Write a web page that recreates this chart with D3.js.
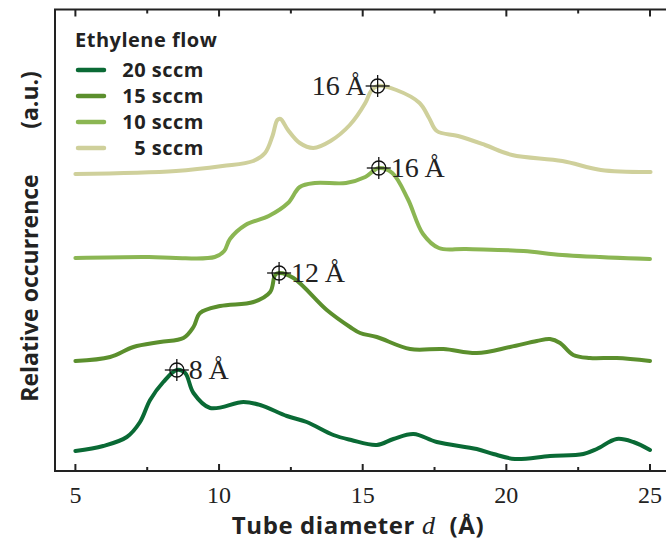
<!DOCTYPE html>
<html>
<head>
<meta charset="utf-8">
<script src="https://cdn.jsdelivr.net/npm/d3@7"></script>
<style>
  html, body { margin: 0; padding: 0; background: #fff; }
  svg { display: block; }
</style>
</head>
<body>
<svg id="chart" width="666" height="550"></svg>
<script>
// Diameter distributions for each ethylene flow, stacked with vertical offsets
const seriesNames = ["20 sccm", "15 sccm", "10 sccm", "5 sccm"];
const legendLabels = ["20 sccm", "15 sccm", "10 sccm", "\u2007\u20095 sccm"];
const seriesColors = ["#0a6a35", "#5b8f2d", "#8bb653", "#cfd09b"];
const seriesOffsets = [0.1, 1.0, 2.0, 2.9];

const d20 = [[5.0,0.10],[5.97,0.15],[6.79,0.24],[7.25,0.39],[7.6,0.61],[8.06,0.79],[8.53,0.91],[8.82,0.88],[9.11,0.68],[9.69,0.53],[10.85,0.59],[11.43,0.56],[12.36,0.45],[13.05,0.39],[13.98,0.26],[14.6,0.21],[15.49,0.16],[16.07,0.22],[16.77,0.27],[17.58,0.19],[18.97,0.12],[19.55,0.07],[20.3,0.02],[21.52,0.05],[22.68,0.07],[23.15,0.12],[23.84,0.22],[24.42,0.19],[25.0,0.11]];
const d15 = [[5.0,0.10],[6.21,0.14],[7.02,0.24],[7.95,0.29],[8.76,0.33],[9.11,0.44],[9.34,0.58],[10.04,0.65],[11.2,0.69],[11.78,0.79],[11.95,0.96],[12.09,0.98],[12.59,0.93],[13.75,0.61],[14.56,0.44],[14.91,0.38],[15.49,0.34],[16.65,0.22],[17.81,0.22],[18.97,0.18],[20.13,0.24],[21.06,0.30],[21.52,0.32],[21.87,0.28],[22.33,0.16],[22.91,0.13],[23.84,0.13],[25.0,0.10]];
const d10 = [[5.0,0.13],[7.56,0.14],[8.5,0.13],[9.85,0.14],[10.18,0.20],[10.38,0.32],[10.92,0.46],[11.73,0.55],[12.4,0.68],[12.81,0.84],[13.34,0.88],[14.42,0.88],[15.09,0.94],[15.56,1.03],[16.03,0.98],[16.57,0.72],[17.1,0.37],[17.65,0.23],[18.59,0.22],[20.6,0.20],[21.95,0.16],[25.0,0.12]];
const d5 = [[5.0,0.07],[8.5,0.10],[10.12,0.15],[11.19,0.20],[11.6,0.28],[11.86,0.45],[12.03,0.61],[12.14,0.62],[12.4,0.51],[12.81,0.38],[13.28,0.33],[13.88,0.40],[14.55,0.56],[15.09,0.78],[15.29,0.90],[15.52,0.95],[16.17,0.91],[16.98,0.78],[17.31,0.63],[17.58,0.50],[18.32,0.45],[19.26,0.36],[20.2,0.26],[21.95,0.20],[23.29,0.11],[25.02,0.09]];
const seriesData = [d20, d15, d10, d5];

// Most frequent diameter per series
const peakX = [8.53, 12.09, 15.56, 15.52];
const peakY = [0.91, 0.98, 1.03, 0.95];
const peakLabels = ["8\u2009Å", "12\u2009Å", "16\u2009Å", "16\u2009Å"];
const peakLabelSide = ["right", "right", "right", "left"];

const xTicksMajor = [5, 10, 15, 20, 25];
const xTicksMinor = [7.5, 12.5, 17.5, 22.5];

const svg = d3.select("#chart");
const plotLeft = 55, plotTop = 9.5, plotBottom = 471;

const x = d3.scaleLinear().domain([4.29, 25.6]).range([plotLeft, plotLeft + 21.31 * 28.73]);
const y = d3.scaleLinear().domain([0, 4.615]).range([plotBottom, plotTop]);

const axisColor = "#222";
const serif = "'Liberation Serif', 'DejaVu Serif', serif";
const sans = "'Open Sans', 'Noto Sans', sans-serif";

// Curves
const line = d3.line().curve(d3.curveCatmullRom.alpha(0.5));
seriesData.forEach((data, i) => {
  svg.append("path")
    .attr("d", line(data.map(d => [x(d[0]), y(d[1] + seriesOffsets[i])])))
    .attr("fill", "none")
    .attr("stroke", seriesColors[i])
    .attr("stroke-width", 4)
    .attr("stroke-linecap", "round")
    .attr("stroke-linejoin", "round");
});

// Peak markers
peakX.forEach((px, i) => {
  const cx = x(px), cy = y(peakY[i] + seriesOffsets[i]);
  const g = svg.append("g").attr("transform", `translate(${cx},${cy})`);
  g.append("circle").attr("r", 7).attr("fill", "none").attr("stroke", "#111").attr("stroke-width", 1.3);
  g.append("line").attr("x1", -12).attr("x2", 12).attr("stroke", "#111").attr("stroke-width", 1.3);
  g.append("line").attr("y1", -11).attr("y2", 11).attr("stroke", "#111").attr("stroke-width", 1.3);
  const rightSide = peakLabelSide[i] === "right";
  svg.append("text")
    .attr("x", rightSide ? cx + 12 : cx - 12)
    .attr("y", cy + 9)
    .attr("text-anchor", rightSide ? "start" : "end")
    .attr("font-family", serif)
    .attr("font-size", 28)
    .attr("fill", "#222")
    .text(peakLabels[i]);
});

// Frame: left, top and bottom spines
const frame = svg.append("g").attr("stroke", axisColor).attr("stroke-width", 2).attr("fill", "none");
frame.append("path").attr("d", `M${x.range()[1]},${plotTop}H${plotLeft}V${plotBottom}H${x.range()[1]}`);

// Ticks pointing into the plot on top and bottom spines
xTicksMajor.forEach(t => {
  frame.append("line").attr("x1", x(t)).attr("x2", x(t)).attr("y1", plotBottom).attr("y2", plotBottom - 7);
  frame.append("line").attr("x1", x(t)).attr("x2", x(t)).attr("y1", plotTop).attr("y2", plotTop + 7);
});
xTicksMinor.forEach(t => {
  frame.append("line").attr("x1", x(t)).attr("x2", x(t)).attr("y1", plotBottom).attr("y2", plotBottom - 4);
  frame.append("line").attr("x1", x(t)).attr("x2", x(t)).attr("y1", plotTop).attr("y2", plotTop + 4);
});

// Tick labels
xTicksMajor.forEach(t => {
  svg.append("text")
    .attr("x", x(t)).attr("y", 503)
    .attr("text-anchor", "middle")
    .attr("font-family", serif)
    .attr("font-size", 24)
    .attr("fill", "#222")
    .text(t);
});

// Axis titles
const xt = svg.append("text")
  .attr("x", 358).attr("y", 534)
  .attr("text-anchor", "middle")
  .attr("font-family", sans)
  .attr("font-weight", "bold")
  .attr("font-size", 24)
  .attr("letter-spacing", 0.6)
  .attr("fill", "#222");
xt.append("tspan").text("Tube diameter ");
xt.append("tspan").attr("font-family", serif).attr("font-style", "italic").attr("font-weight", "normal").attr("font-size", 26).text("d");
xt.append("tspan").attr("dx", 14).text("(Å)");

svg.append("text")
  .attr("transform", "translate(38,288) rotate(-90)")
  .attr("text-anchor", "middle")
  .attr("font-family", sans)
  .attr("font-weight", "bold")
  .attr("font-size", 23)
  .attr("fill", "#222")
  .text("Relative occurrence");
svg.append("text")
  .attr("transform", "translate(38,100) rotate(-90)")
  .attr("text-anchor", "middle")
  .attr("font-family", sans)
  .attr("font-weight", "bold")
  .attr("font-size", 23)
  .attr("fill", "#222")
  .text("(a.u.)");

// Legend
const legend = svg.append("g");
legend.append("text")
  .attr("x", 75).attr("y", 47)
  .attr("font-family", sans).attr("font-weight", "bold").attr("font-size", 20)
  .attr("letter-spacing", 0.5)
  .attr("fill", "#222")
  .text("Ethylene flow");
seriesNames.forEach((name, i) => {
  const ly = 70 + i * 26;
  legend.append("line")
    .attr("x1", 78).attr("x2", 104).attr("y1", ly).attr("y2", ly)
    .attr("stroke", seriesColors[i]).attr("stroke-width", 4.5).attr("stroke-linecap", "round");
  legend.append("text")
    .attr("x", 204).attr("y", ly + 7)
    .attr("text-anchor", "end")
    .attr("font-family", sans).attr("font-weight", "bold").attr("font-size", 20)
    .attr("letter-spacing", 0.5)
    .attr("fill", "#222")
    .text(legendLabels[i]);
});
</script>
</body>
</html>
